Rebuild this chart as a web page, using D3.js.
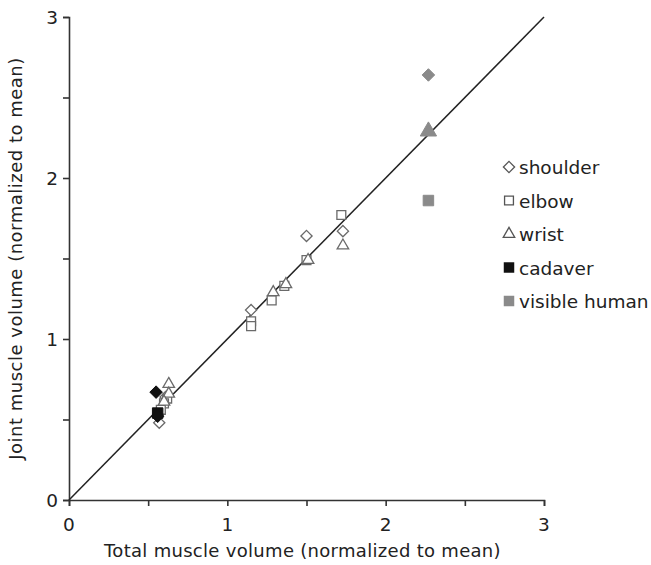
<!DOCTYPE html>
<html>
<head>
<meta charset="utf-8">
<script src="https://cdn.jsdelivr.net/npm/d3@7"></script>
<style>
  body { margin: 0; background: #fff; }
  text { font-family: "DejaVu Sans", Verdana, sans-serif; fill: #222; }
</style>
</head>
<body>
<div id="plot"></div>
<script>
// joint: shoulder / elbow / wrist ; source: subject / cadaver / visible
let shoulderPts = [[0.57, 0.48], [1.15, 1.18], [1.50, 1.64], [1.73, 1.67], [0.61, 0.64]];
let elbowPts = [[0.62, 0.63], [0.60, 0.60], [1.15, 1.11], [1.15, 1.08], [1.28, 1.24],
                [1.36, 1.33], [1.50, 1.49], [1.72, 1.77], [0.58, 0.56]];
let wristPts = [[0.63, 0.72], [0.63, 0.66], [0.60, 0.61], [1.29, 1.29], [1.37, 1.34],
                [1.51, 1.49], [1.73, 1.58]];
let cadaverPts = [["shoulder", 0.55, 0.67], ["elbow", 0.56, 0.54], ["shoulder", 0.56, 0.52]];
let visiblePts = [["shoulder", 2.27, 2.64], ["wrist", 2.27, 2.29], ["elbow", 2.27, 1.86]];
let legendLabels = ["shoulder", "elbow", "wrist", "cadaver", "visible human"];
let ticks = [0, 1, 2, 3];
let minorTicks = [0, 0.5, 1, 1.5, 2, 2.5, 3];

let svgWidth = 651, svgHeight = 565;
let margin = { top: 17, right: 107, bottom: 65, left: 69 };
let width = svgWidth - margin.left - margin.right;
let height = svgHeight - margin.top - margin.bottom;

let x = d3.scaleLinear().domain([0, 3]).range([0, width]);
let y = d3.scaleLinear().domain([0, 3]).range([height, 0]);

let svg = d3.select('#plot').append('svg')
    .attr('width', svgWidth).attr('height', svgHeight);
let chart = svg.append('g')
    .attr('transform', `translate(${margin.left},${margin.top})`);

// axes
let xAxis = d3.axisBottom(x).tickValues(minorTicks).tickSize(6).tickFormat('');
let yAxis = d3.axisLeft(y).tickValues(minorTicks).tickSize(6).tickFormat('');
let gx = chart.append('g').attr('transform', `translate(0,${height})`).call(xAxis);
let gy = chart.append('g').call(yAxis);
[gx, gy].forEach(g => {
  g.select('.domain').attr('stroke', '#333').attr('stroke-width', 1.6);
  g.selectAll('.tick line').attr('stroke', '#333').attr('stroke-width', 1.6);
});

chart.selectAll('.xlab').data(ticks).enter().append('text')
    .attr('x', d => x(d)).attr('y', height + 31)
    .attr('text-anchor', 'middle').attr('font-size', 18.5).text(d => d);
chart.selectAll('.ylab').data(ticks).enter().append('text')
    .attr('x', -11).attr('y', d => y(d) + 7)
    .attr('text-anchor', 'end').attr('font-size', 18.5).text(d => d);

chart.append('text').attr('x', width / 2 - 4).attr('y', height + 57)
    .attr('text-anchor', 'middle').attr('font-size', 18).attr('letter-spacing', 0.3)
    .text('Total muscle volume (normalized to mean)');
chart.append('text')
    .attr('transform', `translate(-47,${height / 2}) rotate(-90)`)
    .attr('text-anchor', 'middle').attr('font-size', 18).attr('letter-spacing', 0.5)
    .text('Joint muscle volume (normalized to mean)');

// identity line
chart.append('line')
    .attr('x1', x(0)).attr('y1', y(0)).attr('x2', x(3)).attr('y2', y(3))
    .attr('stroke', '#222').attr('stroke-width', 1.5);

let shapes = {
  shoulder: d3.symbol().type(d3.symbolDiamond2).size(80),
  elbow: d3.symbol().type(d3.symbolSquare2).size(100),
  wrist: d3.symbol().type(d3.symbolTriangle2).size(95)
};
let fillShapes = {
  shoulder: d3.symbol().type(d3.symbolDiamond2).size(100),
  elbow: d3.symbol().type(d3.symbolSquare).size(110),
  wrist: d3.symbol().type(d3.symbolTriangle).size(115)
};

function openPts(data, kind) {
  chart.selectAll('.p-' + kind).data(data).enter().append('path')
      .attr('d', shapes[kind]())
      .attr('transform', d => `translate(${x(d[0])},${y(d[1])})`)
      .attr('fill', '#fff').attr('stroke', '#6a6a6a').attr('stroke-width', 1.3);
}
openPts(shoulderPts, 'shoulder');
openPts(elbowPts, 'elbow');
openPts(wristPts, 'wrist');

function filledPts(data, cls, color) {
  chart.selectAll('.' + cls).data(data).enter().append('path')
      .attr('d', d => fillShapes[d[0]]())
      .attr('transform', d => `translate(${x(d[1])},${y(d[2])})`)
      .attr('fill', color).attr('stroke', color).attr('stroke-width', 1);
}
filledPts(cadaverPts, 'cad', '#111');
filledPts(visiblePts, 'vis', '#8a8a8a');

// legend
let legend = svg.append('g').attr('transform', 'translate(509,167)');
let legendSyms = [
  { p: shapes.shoulder(), fill: '#fff', stroke: '#555' },
  { p: shapes.elbow(), fill: '#fff', stroke: '#555' },
  { p: shapes.wrist(), fill: '#fff', stroke: '#555' },
  { p: fillShapes.elbow(), fill: '#111', stroke: 'none' },
  { p: fillShapes.elbow(), fill: '#8a8a8a', stroke: 'none' }
];
legendLabels.forEach((lab, i) => {
  let g = legend.append('g').attr('transform', `translate(0,${i * 33.5})`);
  g.append('path').attr('d', legendSyms[i].p)
      .attr('fill', legendSyms[i].fill).attr('stroke', legendSyms[i].stroke)
      .attr('stroke-width', 1.3);
  g.append('text').attr('x', 10).attr('y', 7).attr('font-size', 18.5).text(lab);
});
</script>
</body>
</html>
